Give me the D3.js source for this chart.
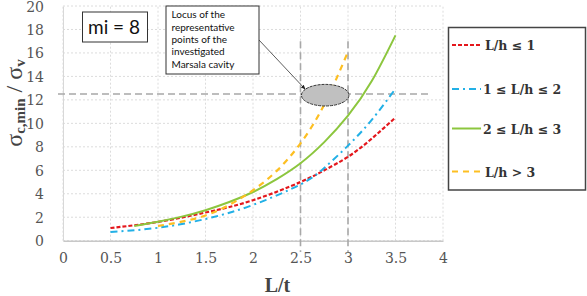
<!DOCTYPE html>
<html><head><meta charset="utf-8">
<script src="https://cdn.jsdelivr.net/npm/d3@7"></script>
<style>body{margin:0;background:#fff}svg{display:block}</style>
</head><body>
<svg id="c" width="587" height="296"></svg>
<script>
const xTicks = [0,0.5,1,1.5,2,2.5,3,3.5,4];
const yTicks = [0,2,4,6,8,10,12,14,16,18,20];
const xRed = [0.5,1,1.5,2,2.5,2.75,3,3.25,3.5];
const yRed = [1.08,1.6,2.4,3.45,5.0,6.0,7.15,8.7,10.5];
const xBlue = [0.5,1,1.5,2,2.5,2.75,3,3.25,3.5];
const yBlue = [0.74,1.1,1.85,3.05,4.8,6.2,8.1,10.3,12.95];
const xGreen = [0.75,1,1.25,1.5,1.75,2,2.25,2.5,2.75,3,3.25,3.5];
const yGreen = [1.25,1.62,2.05,2.6,3.3,4.15,5.25,6.6,8.4,10.65,13.6,17.5];
const xYellow = [1,1.25,1.5,1.75,2,2.25,2.5,2.75,3];
const yYellow = [1.25,1.62,2.15,3.05,4.3,5.95,8.3,11.6,16.1];
const seriesNames = ["L/h \u2264 1","1 \u2264 L/h \u2264 2","2 \u2264 L/h \u2264 3","L/h > 3"];
const refX = [2.5,3];
const refY = 12.5;
const locus = {cx:2.76, cy:12.4, rx:0.25, ry:0.92};
const annoLines = ["Locus of the","representative","points of the","investigated","Marsala cavity"];

const svg = d3.select("#c");
const x = d3.scaleLinear().domain([0,4]).range([63,443]);
const y = d3.scaleLinear().domain([0,20]).range([240.7,6]);
const serif = "'DejaVu Serif', 'Liberation Serif', serif";

// grid
const g = svg.append("g");
g.selectAll(".vg").data(xTicks).enter().append("line")
  .attr("x1",d=>x(d)).attr("x2",d=>x(d)).attr("y1",y(0)).attr("y2",y(20))
  .attr("stroke","#dcdcdc").attr("stroke-width",1).attr("stroke-dasharray","2,2");
g.selectAll(".hg").data(yTicks).enter().append("line")
  .attr("x1",x(0)).attr("x2",x(4)).attr("y1",d=>y(d)).attr("y2",d=>y(d))
  .attr("stroke","#dcdcdc").attr("stroke-width",1).attr("stroke-dasharray","2,2");

// axes
const xAxis = d3.axisBottom(x).tickValues(xTicks).tickSize(0).tickPadding(12).tickFormat(d3.format("~g"));
const ax = svg.append("g").attr("transform",`translate(0,${y(0)})`).call(xAxis);
ax.select(".domain").attr("stroke","#c8c8c8").attr("stroke-width",1.5);
ax.selectAll("text").attr("font-family",serif).attr("font-size",14).attr("fill","#555");
const yAxis = d3.axisLeft(y).tickValues(yTicks).tickSize(0).tickPadding(19);
const ay = svg.append("g").attr("transform",`translate(${x(0)},0)`).call(yAxis);
ay.select(".domain").attr("stroke","#d8d8d8").attr("stroke-width",1);
ay.selectAll("text").attr("font-family",serif).attr("font-size",14).attr("fill","#555").attr("dy","0.36em");

// reference dashed lines
svg.append("line").attr("x1",58).attr("x2",431).attr("y1",y(refY)).attr("y2",y(refY))
  .attr("stroke","#a8a8a8").attr("stroke-width",1.6).attr("stroke-dasharray","7,4");
svg.selectAll(".rv").data(refX).enter().append("line")
  .attr("x1",d=>x(d)).attr("x2",d=>x(d)).attr("y1",y(17)).attr("y2",252)
  .attr("stroke","#a8a8a8").attr("stroke-width",1.6).attr("stroke-dasharray","7,4");

// curves
const line = d3.line().x(d=>x(d[0])).y(d=>y(d[1])).curve(d3.curveNatural);
const series = [
  {xs:xRed, ys:yRed, color:"#e4171c", w:2.2, dash:"4,2"},
  {xs:xBlue, ys:yBlue, color:"#22b0e6", w:2, dash:"7,4,2,4"},
  {xs:xGreen, ys:yGreen, color:"#8cc63e", w:2, dash:null},
  {xs:xYellow, ys:yYellow, color:"#fdbf22", w:2.2, dash:"6,5"}
];
series.forEach(s=>{
  svg.append("path").attr("d",line(s.xs.map((v,i)=>[v,s.ys[i]])))
    .attr("fill","none").attr("stroke",s.color).attr("stroke-width",s.w)
    .attr("stroke-dasharray",s.dash);
});

// locus ellipse
svg.append("ellipse").attr("cx",x(locus.cx)).attr("cy",y(locus.cy))
  .attr("rx",x(locus.cx+locus.rx)-x(locus.cx)).attr("ry",y(locus.cy)-y(locus.cy+locus.ry))
  .attr("fill","#c0c0c0").attr("stroke","#333").attr("stroke-width",1).attr("stroke-dasharray","3,1");

// annotation box + arrow
svg.append("defs").append("marker").attr("id","ar").attr("viewBox","0 0 10 10")
  .attr("refX",9).attr("refY",5).attr("markerWidth",6).attr("markerHeight",6).attr("orient","auto")
  .append("path").attr("d","M0,1L10,5L0,9z").attr("fill","#222");
svg.append("line").attr("x1",259).attr("y1",40).attr("x2",x(locus.cx)-20).attr("y2",y(locus.cy)-6)
  .attr("stroke","#333").attr("stroke-width",0.8).attr("marker-end","url(#ar)");
svg.append("rect").attr("x",166).attr("y",6).attr("width",93).attr("height",68)
  .attr("fill","#fff").attr("stroke","#333").attr("stroke-width",1);
svg.append("text").attr("font-family","Lato, 'Open Sans', sans-serif").attr("font-size",10).attr("fill","#111")
  .selectAll("tspan").data(annoLines).enter().append("tspan")
  .attr("x",171.5).attr("y",(d,i)=>18.3+i*12.3).text(d=>d);

// mi box
svg.append("rect").attr("x",82.5).attr("y",12).attr("width",65).attr("height",30)
  .attr("fill","#fff").attr("stroke","#333").attr("stroke-width",1);
svg.append("text").attr("x",114).attr("y",33.5).attr("text-anchor","middle")
  .attr("font-family","Lato, 'Open Sans', sans-serif").attr("font-size",19).attr("fill","#111").text("mi = 8");

// legend
const lg = svg.append("g");
lg.append("rect").attr("x",448.5).attr("y",27.5).attr("width",137).attr("height",162.5)
  .attr("fill","#fff").attr("stroke","#444").attr("stroke-width",1.5);
const rowsY = [45,89,128.5,171.5];
series.forEach((s,i)=>{
  lg.append("line").attr("x1",452).attr("x2",481).attr("y1",rowsY[i]).attr("y2",rowsY[i])
    .attr("stroke",s.color).attr("stroke-width",2).attr("stroke-dasharray",s.dash);
  lg.append("text").attr("x",i==0||i==3?485:483).attr("y",rowsY[i]+5)
    .attr("font-family","'DejaVu Serif', serif").attr("font-weight","bold").attr("font-size",12.5)
    .attr("fill","#333").text(seriesNames[i]);
});

// axis titles
svg.append("text").attr("x",277.5).attr("y",292).attr("text-anchor","middle")
  .attr("font-family","'Liberation Serif', serif").attr("font-weight","bold").attr("font-size",20)
  .attr("fill","#444").text("L/t");
const yt = svg.append("text").attr("transform","translate(22,103) rotate(-90)").attr("text-anchor","middle")
  .attr("font-family","'Liberation Serif', serif").attr("font-size",24).attr("fill","#444");
yt.append("tspan").text("\u03c3");
yt.append("tspan").attr("font-size",15).attr("dy",3).attr("font-weight","bold").text("c,min");
yt.append("tspan").attr("dy",-3).text(" / \u03c3");
yt.append("tspan").attr("font-size",15).attr("dy",3).attr("font-weight","bold").text("v");
</script>
</body></html>
